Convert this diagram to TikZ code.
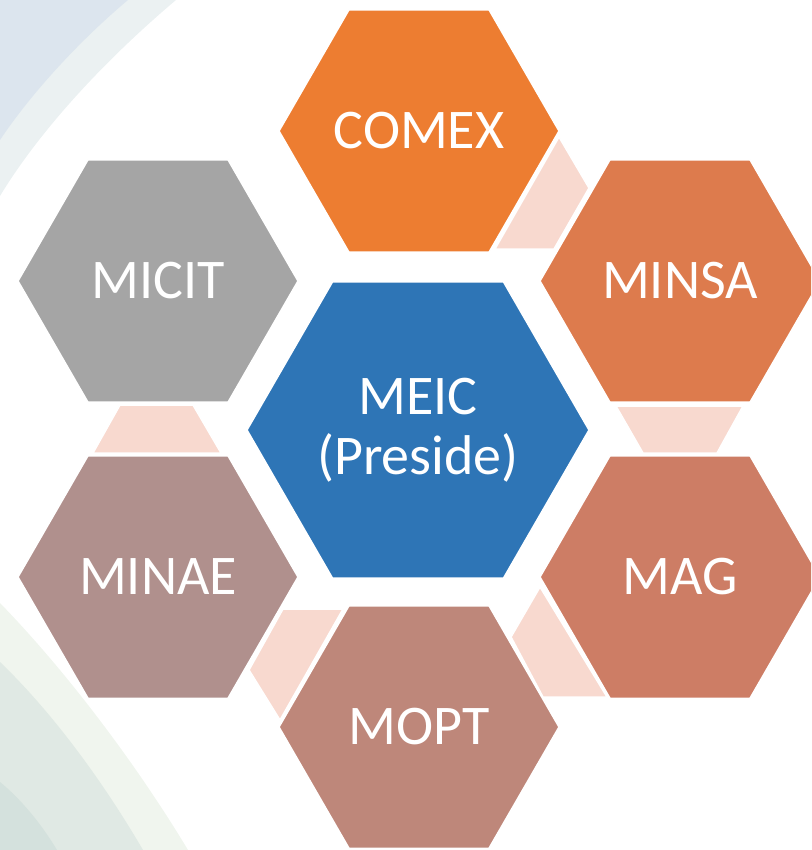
\documentclass[tikz,border=0pt]{standalone}
\usepackage{fontspec}
\setmainfont{Carlito}
\usetikzlibrary{shapes.geometric}
\definecolor{cComex}{HTML}{ED7D31}
\definecolor{cMinsa}{HTML}{DD7B4D}
\definecolor{cMag}{HTML}{CD7D65}
\definecolor{cMopt}{HTML}{BE877A}
\definecolor{cMinae}{HTML}{B0908D}
\definecolor{cMicit}{HTML}{A5A5A5}
\definecolor{cMeic}{HTML}{2E75B6}
\definecolor{cLink}{HTML}{F8D9CF}
\definecolor{bgA}{HTML}{EBF1F2}
\definecolor{bgB}{HTML}{DCE5EE}
\definecolor{bgC}{HTML}{F0F5EE}
\definecolor{bgD}{HTML}{E0E9E4}
\definecolor{bgE}{HTML}{D4E1DD}
\begin{document}
\begin{tikzpicture}[x=1pt,y=-1pt,
  hex/.style={regular polygon, regular polygon sides=6, inner sep=0pt, outer sep=0pt,
    draw=white, line width=1.5pt, text=white, align=center,
    font=\fontsize{56}{60}\selectfont},
  outerhex/.style={hex, minimum size=280pt},
  link/.style={fill=cLink, draw=white, line width=1.5pt}]
\useasboundingbox (0,0) rectangle (811,850);
\clip (0,0) rectangle (811,850);
% background bands
\fill[bgA] (0,0) -- (176,0) .. controls (105,60) and (40,130) .. (0,196) -- cycle;
\fill[bgB] (0,0) -- (128,0) .. controls (78,42) and (30,95) .. (0,140) -- cycle;
\fill[bgC] (0,603) .. controls (70,675) and (140,770) .. (188,850) -- (0,850) -- cycle;
\fill[bgD] (0,662) .. controls (55,715) and (105,785) .. (143,850) -- (0,850) -- cycle;
\fill[bgE] (0,782) .. controls (22,800) and (42,825) .. (57,850) -- (0,850) -- cycle;
% connectors
\path[link] (495,249) -- (554,249) -- (589,188) -- (559,137) -- cycle;
\path[link] (616,406) -- (743,406) -- (717,453) -- (643,453) -- cycle;
\path[link] (540,587) -- (511,637) -- (543,697) -- (607,697) -- cycle;
\path[link] (283,609) -- (343,609) -- (280,720) -- (249,670) -- cycle;
\path[link] (120,405) -- (193,405) -- (221,453) -- (93,453) -- cycle;
% hexagons
\node[outerhex, fill=cComex] (comex) at (419,131) {COMEX};
\node[outerhex, fill=cMinsa] (minsa) at (680,281) {MINSA};
\node[outerhex, fill=cMag]   (mag)   at (680,577) {MAG};
\node[outerhex, fill=cMopt]  (mopt)  at (419,727) {MOPT};
\node[outerhex, fill=cMinae] (minae) at (158,577) {MINAE};
\node[outerhex, fill=cMicit] (micit) at (158,281) {MICIT};
\node[hex, minimum size=342pt, fill=cMeic] (meic) at (418,430) {MEIC\\(Preside)};
\end{tikzpicture}
\end{document}
